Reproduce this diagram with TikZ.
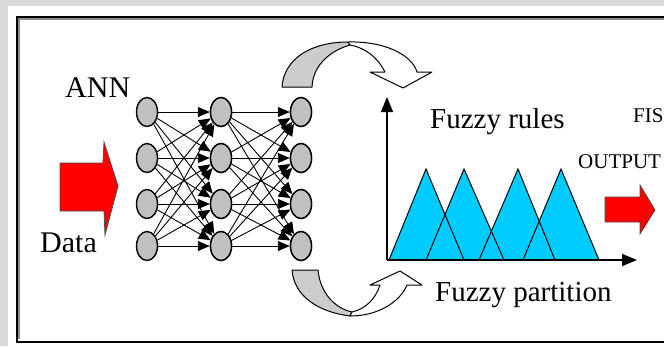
\documentclass[tikz,border=0pt]{standalone}
\usepackage{fontspec}
\setmainfont{Liberation Serif}
\usetikzlibrary{arrows.meta,shapes.geometric}
\definecolor{bggray}{HTML}{D9D9D9}
\definecolor{nodegray}{HTML}{C0C0C0}
\definecolor{bandgray}{HTML}{CCCCCC}
\definecolor{fzcyan}{HTML}{00CCFF}
\definecolor{arrred}{HTML}{FF0000}
\begin{document}
\begin{tikzpicture}[x=1pt,y=-1pt,
  neuron/.style={ellipse, draw=black, fill=nodegray, line width=1.4pt, minimum width=21pt, minimum height=29pt, inner sep=0pt},
  conn/.style={line width=0.9pt, -{Triangle[length=12pt,width=10pt]}},
  biglbl/.style={inner sep=0pt, anchor=base west, font=\fontsize{30}{34}\selectfont},
  midlbl/.style={inner sep=0pt, anchor=base west, font=\fontsize{29}{33}\selectfont},
  smalllbl/.style={inner sep=0pt, anchor=base west, font=\fontsize{21}{24}\selectfont},
  band/.style={draw=black, line width=1pt, line join=round},
  blockarrow/.style={fill=arrred, draw=black!70, line width=0.8pt, line join=miter},
  tri/.style={fill=fzcyan},
  triedge/.style={draw=black, line width=1pt},
  axis/.style={line width=1.3pt, -{Triangle[length=15pt,width=12pt]}}
]
\useasboundingbox (0,0) rectangle (664,346);
\clip (0,0) rectangle (664,346);
% background
\fill[bggray] (0,0) rectangle (664,346);
\fill[white] (8,6) rectangle (664,346);
% frame
\draw[black!45, line width=1.5pt] (670,19) -- (19,19) -- (19,339);
\draw[black, line width=2pt] (670,16.5) -- (16.5,16.5) -- (16.5,341.5) -- (670,341.5);

% texts
\node[biglbl] (ann) at (65,97) {ANN};
\node[biglbl] (data) at (40,252) {Data};
\node[midlbl] (rules) at (430,128) {Fuzzy rules};
\node[midlbl] (part) at (435,301) {Fuzzy partition};
\node[smalllbl] (fis) at (633,122) {FIS};
\node[smalllbl] (out) at (578,168) {OUTPUT};

% left red arrow (Data)
\path[blockarrow] (60,163) -- (103,163) -- (104,142) -- (118,186) -- (105,235) -- (104,211) -- (60,211) -- cycle;
% right red arrow (output)
\path[blockarrow] (605,197) -- (640,197) -- (640,185) -- (655,210) -- (640,234) -- (640,222) -- (605,222) -- cycle;

% network
\foreach \n/\y in {1/112,2/158,3/204,4/246} {
  \node[neuron] (a\n) at (147,\y) {};
  \node[neuron] (b\n) at (221,\y) {};
  \node[neuron] (c\n) at (301,\y) {};
}
\foreach \i in {1,...,4} {
  \foreach \j in {1,...,4} {
    \draw[conn] (a\i) -- (b\j);
    \draw[conn] (b\i) -- (c\j);
  }
}
\foreach \n in {1,...,4} {
  \node[neuron] at (b\n) {};
  \node[neuron] at (c\n) {};
}

% top curved arrow
\path[band, fill=bandgray] (282,87) .. controls (284,58) and (312,42) .. (348,42)
   -- (350,45) .. controls (332,50) and (313,64) .. (312,87) -- cycle;
\path[band, fill=white] (348,42) .. controls (385,41) and (412,55) .. (417,72)
   -- (432,72) -- (403,88) -- (370,72) -- (385,72)
   .. controls (378,58) and (366,48) .. (350,45) -- cycle;

% bottom curved arrow
\path[band, fill=bandgray] (292,270) -- (318,270)
   .. controls (320,292) and (334,308) .. (352,312) -- (350,316)
   .. controls (318,312) and (294,296) .. (292,270) -- cycle;
\path[band, fill=white] (350,316) .. controls (378,316) and (400,302) .. (407,285)
   -- (422,285) -- (400,271) -- (370,285) -- (380,285)
   .. controls (376,298) and (366,309) .. (352,312) -- cycle;

% fuzzy partition triangles
\coordinate (o) at (387,260);
\coordinate (yend) at (387,97);
\coordinate (xend) at (637,260);
\foreach \l/\m/\r in {389/426/464, 426/464/504, 479/518/555, 523/561/599} {
  \fill[tri] (\l,260) -- (\m,169) -- (\r,260) -- cycle;
}
\foreach \l/\m/\r in {389/426/464, 426/464/504, 479/518/555, 523/561/599} {
  \draw[triedge, line join=miter] (\l,260) -- (\m,169) -- (\r,260);
}
\draw[axis] (o) -- (yend);
\draw[axis] (o) -- (xend);
\end{tikzpicture}
\end{document}
